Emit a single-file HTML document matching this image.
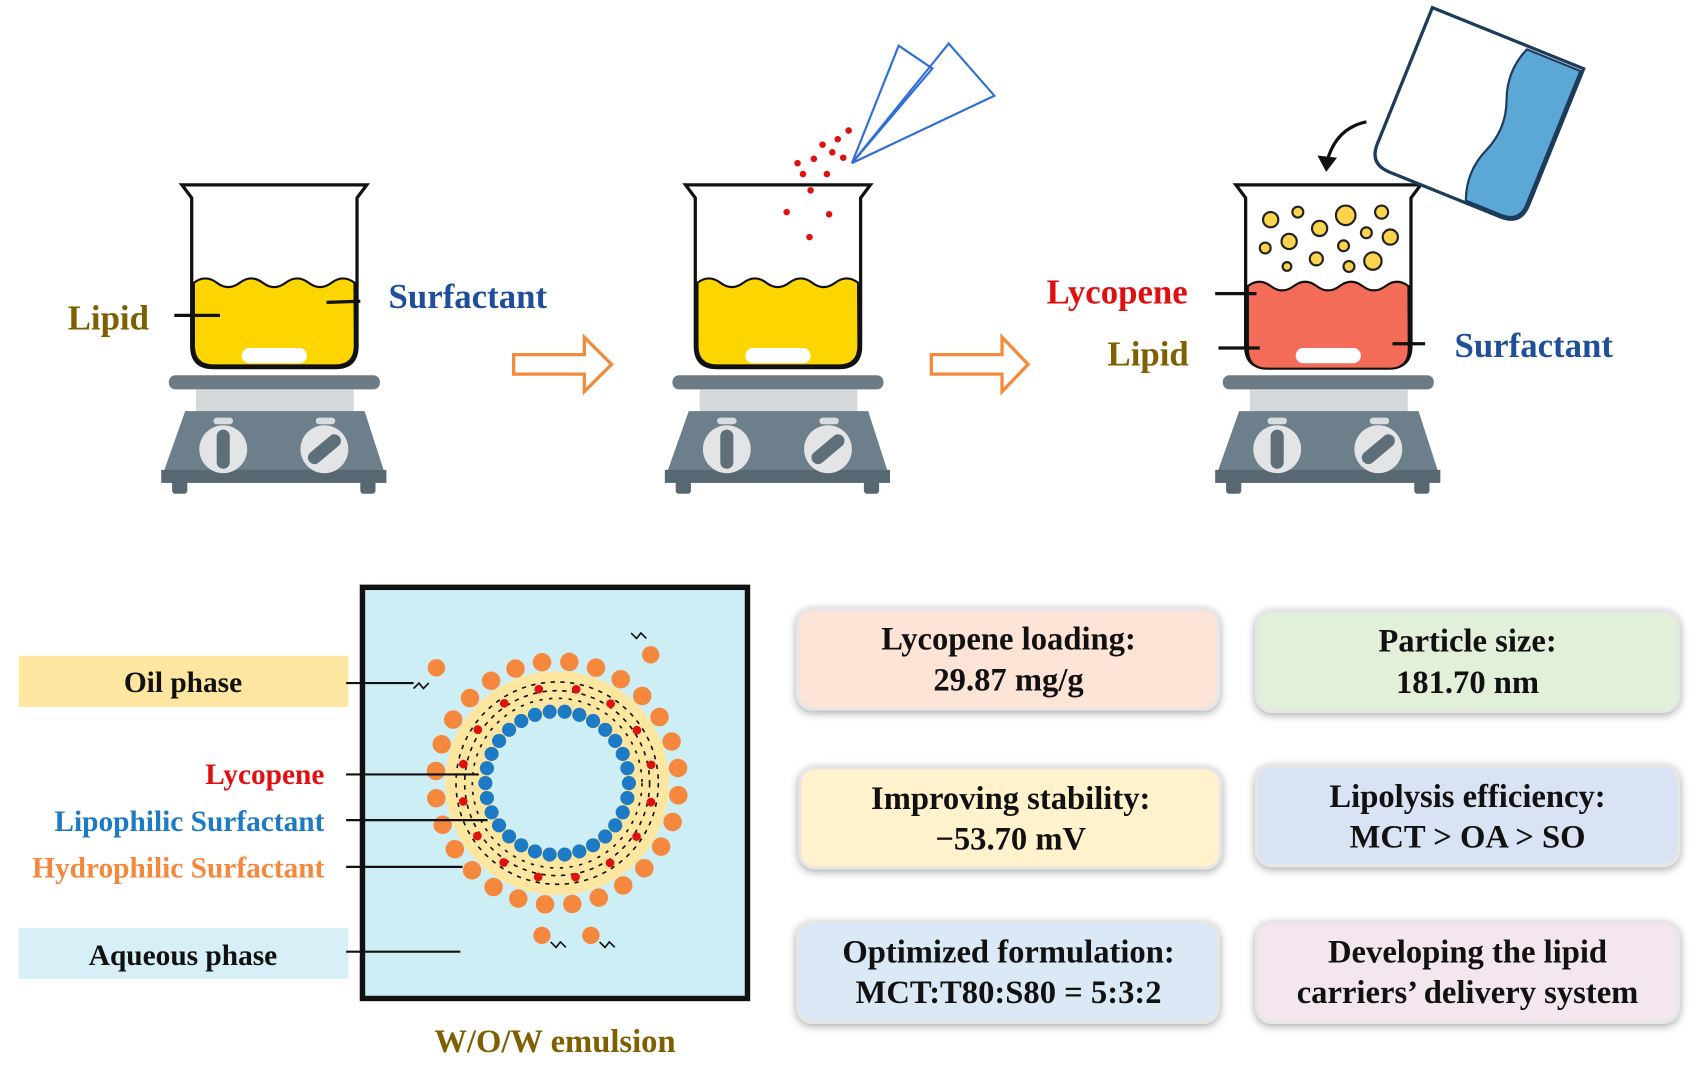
<!DOCTYPE html>
<html><head><meta charset="utf-8"><style>html,body{margin:0;padding:0;background:#fff;}svg{display:block}</style></head>
<body>
<svg width="1706" height="1067" viewBox="0 0 1568 981" xmlns="http://www.w3.org/2000/svg" font-family="Liberation Serif, serif" font-weight="bold">
<defs>
<g id="hp">
  <rect x="155" y="345" width="194" height="13" rx="6" fill="#6c7b86"/>
  <rect x="180" y="358" width="145" height="22" fill="#d5d8da"/>
  <path d="M170,378 L335,378 L355,440 L148,440 Z" fill="#6d7f8b"/>
  <rect x="148" y="432" width="207" height="12" fill="#586873"/>
  <rect x="158" y="442" width="14" height="12" rx="3" fill="#586873"/>
  <rect x="331" y="442" width="14" height="12" rx="3" fill="#586873"/>
  <rect x="196" y="384" width="18" height="6" rx="3" fill="#d9dcdf"/>
  <rect x="290" y="384" width="18" height="6" rx="3" fill="#d9dcdf"/>
  <circle cx="205" cy="413" r="22" fill="#e2e4e6"/>
  <rect x="199" y="395" width="12" height="36" rx="6" fill="#5e6f7a"/>
  <circle cx="298" cy="413" r="22" fill="#e2e4e6"/>
  <rect x="292" y="395" width="12" height="36" rx="6" fill="#5e6f7a" transform="rotate(50 298 413)"/>
</g>
<g id="bk">
  <path d="M167,170 L337,170 L328,182 L328,318 Q328,338 308,338 L196,338 Q176,338 176,318 L176,182 Z" fill="#fff" stroke="#111" stroke-width="3"/>
</g>
<path id="liq" d="M178,260 q10.6,-8 21.1,0 t21.1,0 t21.1,0 t21.1,0 t21.1,0 t21.1,0 t21.1,0 L326,318 Q326,336 308,336 L196,336 Q178,336 178,318 Z"/>
</defs>

<use href="#hp"/>
<use href="#hp" transform="translate(463,0)"/>
<use href="#hp" transform="translate(969,0)"/>

<use href="#bk"/>
<use href="#liq" fill="#fdd500" stroke="#111" stroke-width="2"/>
<rect x="222" y="320" width="60" height="14" rx="7" fill="#fff"/>
<line x1="160" y1="290" x2="202" y2="290" stroke="#111" stroke-width="3"/>
<line x1="300" y1="278" x2="331" y2="277" stroke="#111" stroke-width="3"/>
<text x="62" y="303" font-size="32" fill="#7f6000">Lipid</text>
<text x="357" y="283" font-size="32" fill="#1f4e9a">Surfactant</text>

<path d="M472,326 L537,326 L537,310 L562,335 L537,360 L537,344 L472,344 Z" fill="#fff" stroke="#f28a3a" stroke-width="3"/>
<path d="M856,326 L921,326 L921,310 L945,335 L921,360 L921,344 L856,344 Z" fill="#fff" stroke="#f28a3a" stroke-width="3"/>

<g transform="translate(463,0)">
<use href="#bk"/>
<use href="#liq" fill="#fdd500" stroke="#111" stroke-width="2"/>
<rect x="222" y="320" width="60" height="14" rx="7" fill="#fff"/>
</g>
<g fill="none" stroke="#2f6fd6" stroke-width="2">
<path d="M783,150 L826,42 L857,63 Z"/>
<path d="M783,150 L872,40 L914,88 Z"/>
</g>
<g fill="#e01010">
<circle cx="780" cy="120" r="3"/><circle cx="770" cy="128" r="3"/><circle cx="765" cy="140" r="3"/><circle cx="756" cy="133" r="3"/><circle cx="748" cy="146" r="3"/><circle cx="738" cy="160" r="3"/><circle cx="760" cy="160" r="3"/><circle cx="775" cy="145" r="3"/><circle cx="745" cy="175" r="3"/><circle cx="723" cy="195" r="3"/><circle cx="762" cy="197" r="3"/><circle cx="744" cy="218" r="3"/><circle cx="733" cy="150" r="3"/>
</g>

<g transform="translate(969,0)">
<use href="#bk"/>
<use href="#liq" fill="#f36c57" stroke="#111" stroke-width="2" transform="translate(0,3)"/>
<rect x="222" y="320" width="60" height="14" rx="7" fill="#fff"/>
</g>
<g fill="#fbd34d" stroke="#222" stroke-width="2">
<circle cx="1168" cy="202" r="7"/><circle cx="1193" cy="195" r="5"/><circle cx="1213" cy="210" r="7"/><circle cx="1237" cy="198" r="9"/><circle cx="1270" cy="195" r="6"/><circle cx="1185" cy="222" r="7"/><circle cx="1235" cy="226" r="5"/><circle cx="1256" cy="214" r="5"/><circle cx="1278" cy="218" r="7"/><circle cx="1163" cy="228" r="5"/><circle cx="1210" cy="238" r="6"/><circle cx="1183" cy="245" r="4"/><circle cx="1240" cy="245" r="5"/><circle cx="1262" cy="240" r="8"/>
</g>
<line x1="1117" y1="270" x2="1155" y2="270" stroke="#111" stroke-width="3"/>
<line x1="1120" y1="320" x2="1158" y2="320" stroke="#111" stroke-width="3"/>
<line x1="1280" y1="316" x2="1310" y2="316" stroke="#111" stroke-width="3"/>
<text x="962" y="279" font-size="32" fill="#e01010">Lycopene</text>
<text x="1018" y="336" font-size="32" fill="#7f6000">Lipid</text>
<text x="1337" y="328" font-size="32" fill="#1f4e9a">Surfactant</text>
<g transform="rotate(22 1360 100)">
<path d="M1285,30 L1435,30 L1435,165 Q1435,185 1415,185 L1305,185 Q1285,185 1285,165 Z" fill="#fff" stroke="#1d3c5c" stroke-width="3"/>
<path d="M1380,33 q-10,25 0,50 t0,50 t0,50 L1415,183 Q1433,183 1433,165 L1433,33 Z" fill="#5ba8d6" stroke="#1d3c5c" stroke-width="2"/>
</g>
<path d="M1256,112 Q1228,118 1220,148" fill="none" stroke="#111" stroke-width="3"/>
<path d="M1211,143 L1219,158 L1229,145 Z" fill="#111"/>

<rect x="17" y="603" width="303" height="47" fill="#fde7a0"/>
<rect x="17" y="853" width="303" height="47" fill="#d7eff6"/>
<text x="168" y="636" font-size="27" fill="#111" text-anchor="middle">Oil phase</text>
<text x="168" y="887" font-size="27" fill="#111" text-anchor="middle">Aqueous phase</text>
<text x="298" y="721" font-size="27" fill="#e01010" text-anchor="end">Lycopene</text>
<text x="298" y="764" font-size="27" fill="#1d7ac4" text-anchor="end">Lipophilic Surfactant</text>
<text x="298" y="807" font-size="27" fill="#f5883d" text-anchor="end">Hydrophilic Surfactant</text>

<rect x="333" y="540" width="354" height="378" fill="#cdeef5" stroke="#111" stroke-width="5"/>
<circle cx="512" cy="720" r="103" fill="#fde7a0"/>
<circle cx="512" cy="720" r="62" fill="#cdeef5"/>
<g fill="none" stroke="#111" stroke-width="1.5">
<circle cx="512" cy="720" r="85" stroke-dasharray="4 5"/>
<circle cx="512" cy="720" r="93" stroke-dasharray="4 5"/>
<circle cx="512" cy="720" r="78" stroke-dasharray="3 6"/>
</g>
<g id="dots"></g>
<line x1="318" y1="628" x2="380" y2="628" stroke="#111" stroke-width="2"/>
<line x1="318" y1="712" x2="440" y2="712" stroke="#111" stroke-width="2"/>
<line x1="318" y1="754" x2="448" y2="754" stroke="#111" stroke-width="2"/>
<line x1="318" y1="797" x2="425" y2="797" stroke="#111" stroke-width="2"/>
<line x1="318" y1="875" x2="423" y2="875" stroke="#111" stroke-width="2"/>
<circle cx="598" cy="602" r="8" fill="#f5883d"/><path d="M580,582 l5,5 l4,-5 l5,5" fill="none" stroke="#111" stroke-width="1.5"/>
<circle cx="498" cy="860" r="8" fill="#f5883d"/><path d="M506,866 l5,5 l4,-5 l5,5" fill="none" stroke="#111" stroke-width="1.5"/>
<circle cx="543" cy="860" r="8" fill="#f5883d"/><path d="M551,866 l5,5 l4,-5 l5,5" fill="none" stroke="#111" stroke-width="1.5"/>
<circle cx="401" cy="614" r="8" fill="#f5883d"/><path d="M380,633 l5,-5 l4,5 l5,-5" fill="none" stroke="#111" stroke-width="1.5"/>
<text x="510" y="967" font-size="30" fill="#7f6000" text-anchor="middle">W/O/W emulsion</text>

<g stroke="#e6e6e6" stroke-width="3" style="filter:drop-shadow(0 2px 4px rgba(0,0,0,.35))">
<rect x="733" y="560" width="387" height="92" rx="14" fill="#fde4d6"/>
<rect x="1155" y="562" width="388" height="92" rx="14" fill="#e2f0d9"/>
<rect x="735" y="706" width="387" height="92" rx="14" fill="#fff2cc"/>
<rect x="1155" y="704" width="388" height="92" rx="14" fill="#dae3f3"/>
<rect x="733" y="848" width="387" height="92" rx="14" fill="#dae9f5"/>
<rect x="1155" y="848" width="388" height="92" rx="14" fill="#f3e6ee"/>
</g>
<g font-size="30" fill="#111" text-anchor="middle">
<text x="927" y="597">Lycopene loading:</text><text x="927" y="635">29.87 mg/g</text>
<text x="1349" y="599">Particle size:</text><text x="1349" y="637">181.70 nm</text>
<text x="929" y="744">Improving stability:</text><text x="929" y="781">−53.70 mV</text>
<text x="1349" y="742">Lipolysis efficiency:</text><text x="1349" y="779">MCT &gt; OA &gt; SO</text>
<text x="927" y="885">Optimized formulation:</text><text x="927" y="922">MCT:T80:S80 = 5:3:2</text>
<text x="1349" y="885">Developing the lipid</text><text x="1349" y="922">carriers’ delivery system</text>
</g>
</svg>
<script>
(function(){
var g=document.getElementById('dots'),ns='http://www.w3.org/2000/svg',cx=512,cy=720,i,a,c;
function dot(x,y,r,f){c=document.createElementNS(ns,'circle');c.setAttribute('cx',x);c.setAttribute('cy',y);c.setAttribute('r',r);c.setAttribute('fill',f);g.appendChild(c);}
for(i=0;i<30;i++){a=i*2*Math.PI/30;dot(cx+66*Math.cos(a),cy+66*Math.sin(a),6.5,'#1d7ac4');}
for(i=0;i<28;i++){a=i*2*Math.PI/28+0.1;dot(cx+112*Math.cos(a),cy+112*Math.sin(a),8.5,'#f5883d');}
for(i=0;i<16;i++){a=i*2*Math.PI/16+0.2;dot(cx+88*Math.cos(a),cy+88*Math.sin(a),4,'#e01010');}
})();
</script>
</body></html>
